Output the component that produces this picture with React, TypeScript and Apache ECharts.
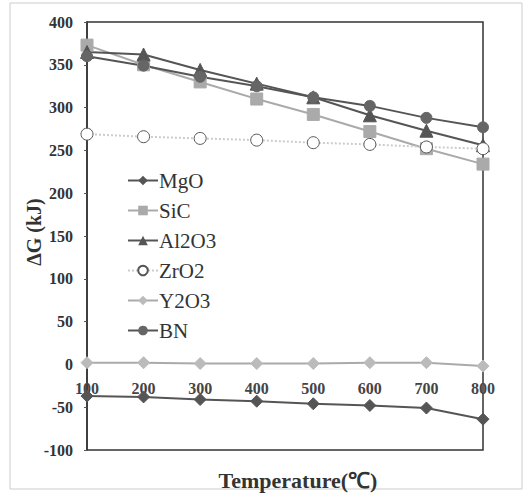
import React, { useEffect, useRef } from "react";
import * as echarts from "echarts";

const categories = ["100", "200", "300", "400", "500", "600", "700", "800"];
const mgo = [-37, -38, -41, -43, -46, -48, -51, -64];
const sic = [373, 350, 330, 310, 292, 272, 252, 234];
const al2o3 = [365, 362, 344, 328, 312, 291, 273, 256];
const zro2 = [269, 266, 264, 262, 259, 257, 254, 252];
const y2o3 = [2, 2, 1, 1, 1, 2, 2, -2];
const bn = [360, 349, 336, 325, 312, 302, 288, 277];

const serif = "'Liberation Serif', 'Times New Roman', serif";

export default function App() {
  const ref = useRef<HTMLDivElement>(null);
  useEffect(() => {
    document.body.style.margin = "0";
    const chart = echarts.init(ref.current!, null, { renderer: "svg" });
    const mk = (
      name: string,
      data: number[],
      color: string,
      symbol: string,
      symbolSize: number,
      opts: any = {}
    ) => ({
      name,
      type: "line",
      data,
      symbol,
      symbolSize,
      lineStyle: { color, width: 2, type: opts.lineType || "solid" },
      itemStyle: opts.itemStyle || { color, borderColor: color },
      color,
      z: opts.z || 2,
    });
    chart.setOption({
      animation: false,
      backgroundColor: "#fff",
      grid: {
        left: 87,
        right: 49,
        top: 22,
        bottom: 50,
        show: true,
        borderColor: "#333",
        borderWidth: 1.5,
        backgroundColor: "transparent",
      },
      xAxis: {
        type: "category",
        data: categories,
        boundaryGap: false,
        axisLine: { show: false, onZero: false },
        axisTick: { show: false },
        axisLabel: {
          fontFamily: serif,
          fontWeight: "bold",
          fontSize: 16,
          color: "#444",
          margin: -70,
        },
        splitLine: { show: false },
      },
      yAxis: {
        type: "value",
        min: -100,
        max: 400,
        interval: 50,
        axisLine: { show: true, onZero: false, lineStyle: { color: "#333", width: 1.5 } },
        axisTick: { show: true, length: 3, lineStyle: { color: "#555" } },
        axisLabel: {
          fontFamily: serif,
          fontWeight: "bold",
          fontSize: 16,
          color: "#333",
          margin: 14,
        },
        splitLine: { show: false },
      },
      legend: {
        orient: "vertical",
        left: 122,
        top: 165,
        itemWidth: 30,
        itemHeight: 12,
        itemGap: 9,
        textStyle: { fontFamily: serif, fontSize: 21, color: "#333", padding: [0, 0, 0, -4] },
        data: ["MgO", "SiC", "Al2O3", "ZrO2", "Y2O3", "BN"],
      },
      graphic: [
        {
          type: "rect",
          shape: { x: 10, y: 3, width: 512, height: 486 },
          style: { fill: "none", stroke: "#ccc", lineWidth: 1 },
          silent: true,
        },
        {
          type: "text",
          x: 298,
          y: 480,
          style: {
            text: "Temperature(℃)",
            fontFamily: serif,
            fontWeight: "bold",
            fontSize: 22,
            fill: "#333",
            align: "center",
            verticalAlign: "middle",
          },
        },
        {
          type: "text",
          x: 34,
          y: 232,
          rotation: Math.PI / 2,
          style: {
            text: "ΔG (kJ)",
            fontFamily: serif,
            fontWeight: "bold",
            fontSize: 20,
            fill: "#333",
            align: "center",
            verticalAlign: "middle",
          },
        },
      ],
      series: [
        mk("MgO", mgo, "#555", "diamond", 12),
        mk("SiC", sic, "#aaa", "rect", 12),
        mk("Al2O3", al2o3, "#555", "triangle", 13),
        mk("ZrO2", zro2, "#ccc", "circle", 12, {
          lineType: "dotted",
          itemStyle: { color: "#fff", borderColor: "#555", borderWidth: 1 },
          z: 3,
        }),
        mk("Y2O3", y2o3, "#aaa", "diamond", 12, {
          itemStyle: { color: "#bbb", borderColor: "#bbb" },
        }),
        mk("BN", bn, "#555", "circle", 11, {
          itemStyle: { color: "#666", borderColor: "#666" },
        }),
      ],
    });
    return () => chart.dispose();
  }, []);
  return <div ref={ref} style={{ width: 532, height: 500 }} />;
}
